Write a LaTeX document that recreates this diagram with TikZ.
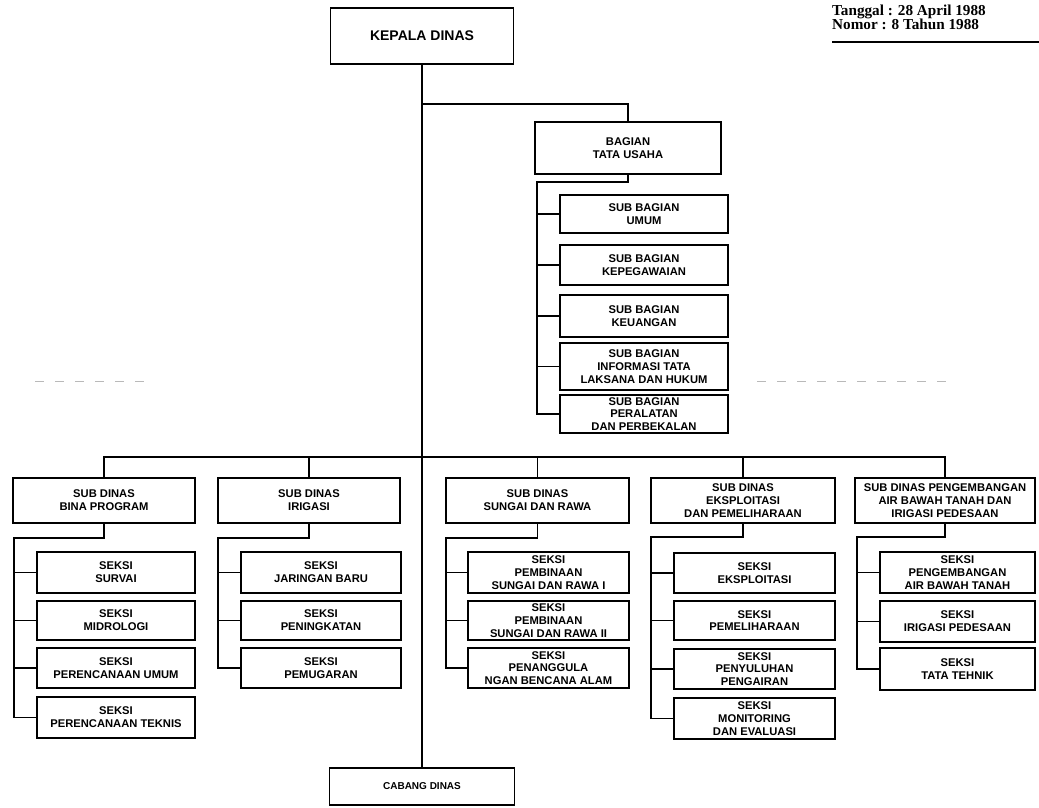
\documentclass[tikz,border=0pt]{standalone}
\usepackage{fontspec}
\setmainfont{Liberation Sans}
\newfontfamily\skfont{Liberation Serif}
\usetikzlibrary{positioning}

\tikzset{
  unit/.style={draw, line width=1.3pt, align=center, inner sep=1pt,
    font=\bfseries\fontsize{11.2}{12.8}\selectfont},
  subdinas/.style={unit, minimum width=182pt, minimum height=45pt},
  subbag/.style={unit, minimum width=168pt},
  seksi/.style={unit, minimum width=160pt},
  link/.style={line width=1.6pt},
  faint/.style={gray!55, line width=1pt, dash pattern=on 9pt off 11pt},
}

\begin{document}
\begin{tikzpicture}[x=1pt, y=-1pt]
  \useasboundingbox (0,0) rectangle (1039,807);

  % surat keputusan
  \node[anchor=north west, align=left, inner sep=0pt,
        font=\skfont\bfseries\fontsize{15.2}{14}\selectfont] (sk) at (832,5)
        {Tanggal : 28 April 1988\\Nomor : 8 Tahun 1988};
  \coordinate (skL) at (832,42);
  \coordinate (skR) at (1039,42);
  \draw[line width=1.4pt] (skL) -- (skR);

  % pimpinan
  \node[unit, minimum width=183pt, minimum height=56pt,
        font=\bfseries\fontsize{14}{16}\selectfont] (kepala) at (422,36) {KEPALA DINAS};
  \node[unit, minimum width=185pt, minimum height=37pt,
        font=\bfseries\fontsize{10}{12}\selectfont] (cabang) at (422,786.5) {CABANG DINAS};

  % bagian tata usaha
  \node[unit, minimum width=186pt, minimum height=52pt] (tu) at (628,148) {BAGIAN\\TATA USAHA};
  \node[subbag, minimum height=38pt] (sbumum) at (644,214) {SUB BAGIAN\\UMUM};
  \node[subbag, minimum height=40pt] (sbpeg) at (644,265) {SUB BAGIAN\\KEPEGAWAIAN};
  \node[subbag, minimum height=42pt] (sbkeu) at (644,316) {SUB BAGIAN\\KEUANGAN};
  \node[subbag, minimum height=47pt] (sbinfo) at (644,366.5) {SUB BAGIAN\\INFORMASI TATA\\LAKSANA DAN HUKUM};
  \node[subbag, minimum height=38pt] (sbalat) at (644,414) {SUB BAGIAN\\PERALATAN\\DAN PERBEKALAN};

  % sub dinas
  \node[subdinas] (sd1) at (104,500.5) {SUB DINAS\\BINA PROGRAM};
  \node[subdinas] (sd2) at (309,500.5) {SUB DINAS\\IRIGASI};
  \node[subdinas, minimum width=183pt] (sd3) at (537.5,500.5) {SUB DINAS\\SUNGAI DAN RAWA};
  \node[subdinas, minimum width=184pt] (sd4) at (743,500.5) {SUB DINAS\\EKSPLOITASI\\DAN PEMELIHARAAN};
  \node[subdinas, minimum width=180pt] (sd5) at (945,500.5) {SUB DINAS PENGEMBANGAN\\AIR BAWAH TANAH DAN\\IRIGASI PEDESAAN};

  % seksi
  \node[seksi, minimum width=158pt, minimum height=41pt] (s11) at (116,572.5) {SEKSI\\SURVAI};
  \node[seksi, minimum width=158pt, minimum height=39pt] (s12) at (116,620.5) {SEKSI\\MIDROLOGI};
  \node[seksi, minimum width=158pt, minimum height=40pt] (s13) at (116,668) {SEKSI\\PERENCANAAN UMUM};
  \node[seksi, minimum width=158pt, minimum height=41pt] (s14) at (116,717.5) {SEKSI\\PERENCANAAN TEKNIS};

  \node[seksi, minimum height=41pt] (s21) at (321,572.5) {SEKSI\\JARINGAN BARU};
  \node[seksi, minimum height=39pt] (s22) at (321,620.5) {SEKSI\\PENINGKATAN};
  \node[seksi, minimum height=40pt] (s23) at (321,668) {SEKSI\\PEMUGARAN};

  \node[seksi, minimum width=161pt, minimum height=41pt] (s31) at (548.5,572.5) {SEKSI\\PEMBINAAN\\SUNGAI DAN RAWA I};
  \node[seksi, minimum width=161pt, minimum height=39pt] (s32) at (548.5,620.5) {SEKSI\\PEMBINAAN\\SUNGAI DAN RAWA II};
  \node[seksi, minimum width=161pt, minimum height=40pt] (s33) at (548.5,668) {SEKSI\\PENANGGULA\\NGAN BENCANA ALAM};

  \node[seksi, minimum width=161pt, minimum height=40pt] (s41) at (754.5,573) {SEKSI\\EKSPLOITASI};
  \node[seksi, minimum width=161pt, minimum height=39pt] (s42) at (754.5,620.5) {SEKSI\\PEMELIHARAAN};
  \node[seksi, minimum width=161pt, minimum height=40pt] (s43) at (754.5,669) {SEKSI\\PENYULUHAN\\PENGAIRAN};
  \node[seksi, minimum width=161pt, minimum height=41pt] (s44) at (754.5,718.5) {SEKSI\\MONITORING\\DAN EVALUASI};

  \node[seksi, minimum width=155pt, minimum height=41pt] (s51) at (957.5,572.5) {SEKSI\\PENGEMBANGAN\\AIR BAWAH TANAH};
  \node[seksi, minimum width=155pt, minimum height=41pt] (s52) at (957.5,621.5) {SEKSI\\IRIGASI PEDESAAN};
  \node[seksi, minimum width=155pt, minimum height=42pt] (s53) at (957.5,669) {SEKSI\\TATA TEHNIK};

  % garis komando
  \coordinate (tucabang) at (422,104);
  \coordinate (tuleft) at (537,182);
  \coordinate (bus) at (422,457);
  \draw[link] (kepala.south) -- (cabang.north);
  \draw[link] (tucabang) -| (tu.north);
  \draw[link] (tu.south) |- (tuleft) |- (sbalat.west);
  \draw[link] (tuleft |- sbumum.west) -- (sbumum.west);
  \draw[link] (tuleft |- sbpeg.west) -- (sbpeg.west);
  \draw[link] (tuleft |- sbkeu.west) -- (sbkeu.west);
  \draw[link] (tuleft |- sbinfo.west) -- (sbinfo.west);

  \draw[link] (sd1.north) |- (bus) -| (sd5.north);
  \draw[link] (sd2.north |- bus) -- (sd2.north);
  \draw[link] (sd3.north |- bus) -- (sd3.north);
  \draw[link] (sd4.north |- bus) -- (sd4.north);

  \coordinate (k1) at (14,538);
  \draw[link] (sd1.south) |- (k1) |- (s14.west);
  \draw[link] (k1 |- s11.west) -- (s11.west);
  \draw[link] (k1 |- s12.west) -- (s12.west);
  \draw[link] (k1 |- s13.west) -- (s13.west);

  \coordinate (k2) at (218,538);
  \draw[link] (sd2.south) |- (k2) |- (s23.west);
  \draw[link] (k2 |- s21.west) -- (s21.west);
  \draw[link] (k2 |- s22.west) -- (s22.west);

  \coordinate (k3) at (446,538);
  \draw[link] (sd3.south) |- (k3) |- (s33.west);
  \draw[link] (k3 |- s31.west) -- (s31.west);
  \draw[link] (k3 |- s32.west) -- (s32.west);

  \coordinate (k4) at (651,537);
  \draw[link] (sd4.south) |- (k4) |- (s44.west);
  \draw[link] (k4 |- s41.west) -- (s41.west);
  \draw[link] (k4 |- s42.west) -- (s42.west);
  \draw[link] (k4 |- s43.west) -- (s43.west);

  \coordinate (k5) at (857,537);
  \draw[link] (sd5.south) |- (k5) |- (s53.west);
  \draw[link] (k5 |- s51.west) -- (s51.west);
  \draw[link] (k5 |- s52.west) -- (s52.west);

  % garis koordinasi (pudar)
  \coordinate (koA) at (35,381);
  \coordinate (koB) at (155,381);
  \coordinate (koC) at (757,381);
  \coordinate (koD) at (957,381);
  \draw[faint] (koA) -- (koB);
  \draw[faint] (koC) -- (koD);
\end{tikzpicture}
\end{document}
